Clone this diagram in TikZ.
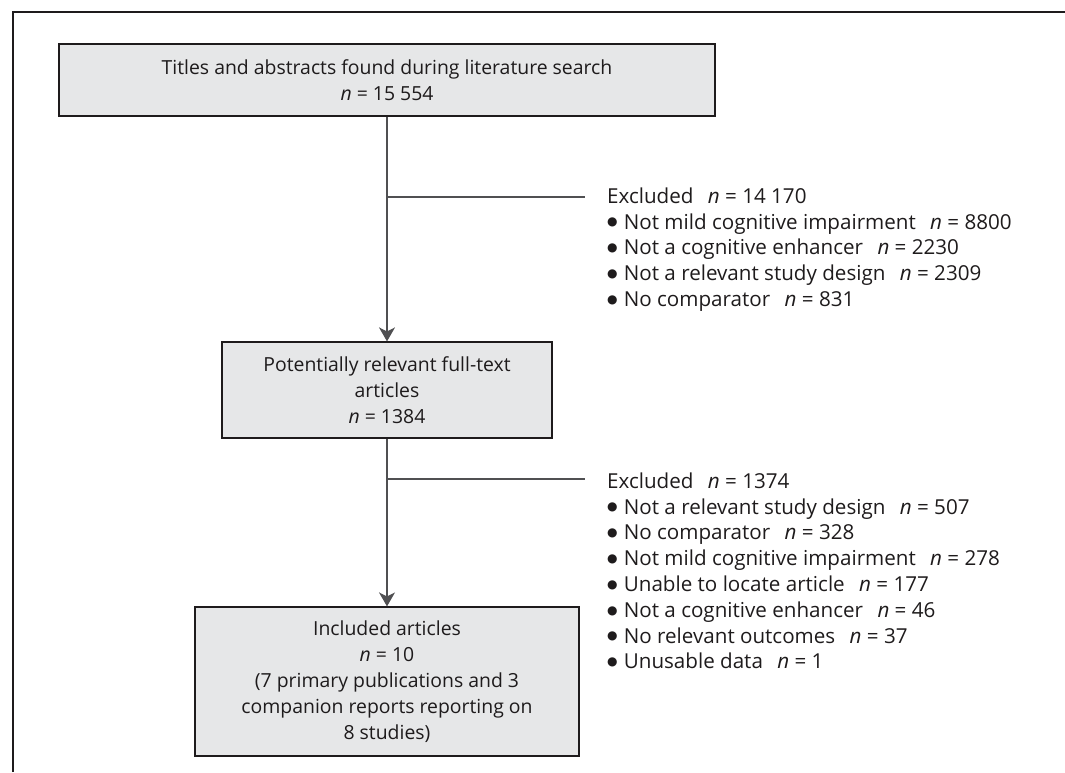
\documentclass[tikz,border=0pt]{standalone}
\usepackage{fontspec}
\setmainfont{Open Sans}
\newfontfamily\symfont{DejaVu Sans}
\usetikzlibrary{arrows.meta}
\definecolor{boxfill}{HTML}{E6E7E8}
\definecolor{ink}{HTML}{1E1B1C}
\definecolor{linec}{HTML}{505052}
\newcommand{\nn}{\textit{n}}
\newcommand{\gapn}{\hspace{0.7em}}
\newcommand{\bul}{\raisebox{3.2pt}{\symfont\fontsize{12}{12}\selectfont ●}\hspace{0.3em}}
\begin{document}
\begin{tikzpicture}[x=1pt,y=-1pt,
  font=\fontsize{19.4}{26}\selectfont, text=ink,
  box/.style={draw=ink, line width=1.2pt, fill=boxfill, align=center, inner sep=0pt},
  conn/.style={draw=linec, line width=1.3pt},
  arr/.style={conn, -{Stealth[length=14pt,width=16pt,inset=4pt]}},
  exl/.style={anchor=north west, align=left, inner sep=0pt,
    font=\fontsize{20.6}{25.8}\selectfont},
  frame/.style={draw=ink, line width=1.3pt}]
\useasboundingbox (0,0) rectangle (1065,772);
% frame
\coordinate (fbl) at (13,772);
\coordinate (ftl) at (13,12);
\coordinate (ftr) at (1065,12);
\draw[frame] (fbl) -- (ftl) -- (ftr);
% boxes
\node[box, minimum width=656pt, minimum height=72pt] (top) at (387,80)
  {Titles and abstracts found during literature search\\ \nn{} = 15 554};
\node[box, minimum width=330pt, minimum height=96pt] (mid) at (387,390)
  {Potentially relevant full-text\\ articles\\ \nn{} = 1384};
\node[box, minimum width=384pt, minimum height=149pt] (bot) at (387,681.5)
  {Included articles\\ \nn{} = 10\\ (7 primary publications and 3\\ companion reports reporting on\\ 8 studies)};
% connectors
\draw[arr] (top.south) -- (mid.north);
\draw[arr] (mid.south) -- (bot.north);
\coordinate (b1s) at (387,197);
\coordinate (b1e) at (585,197);
\coordinate (b2s) at (387,479);
\coordinate (b2e) at (585,479);
\draw[conn] (b1s) -- (b1e);
\draw[conn] (b2s) -- (b2e);
% exclusion texts
\node[exl] (ex1) at (607,187.5)
  {Excluded\gapn\nn{} = 14 170\\
   \bul Not mild cognitive impairment\gapn\nn{} = 8800\\
   \bul Not a cognitive enhancer\gapn\nn{} = 2230\\
   \bul Not a relevant study design\gapn\nn{} = 2309\\
   \bul No comparator\gapn\nn{} = 831};
\node[exl] (ex2) at (607,472.5)
  {Excluded\gapn\nn{} = 1374\\
   \bul Not a relevant study design\gapn\nn{} = 507\\
   \bul No comparator\gapn\nn{} = 328\\
   \bul Not mild cognitive impairment\gapn\nn{} = 278\\
   \bul Unable to locate article\gapn\nn{} = 177\\
   \bul Not a cognitive enhancer\gapn\nn{} = 46\\
   \bul No relevant outcomes\gapn\nn{} = 37\\
   \bul Unusable data\gapn\nn{} = 1};
\end{tikzpicture}
\end{document}
